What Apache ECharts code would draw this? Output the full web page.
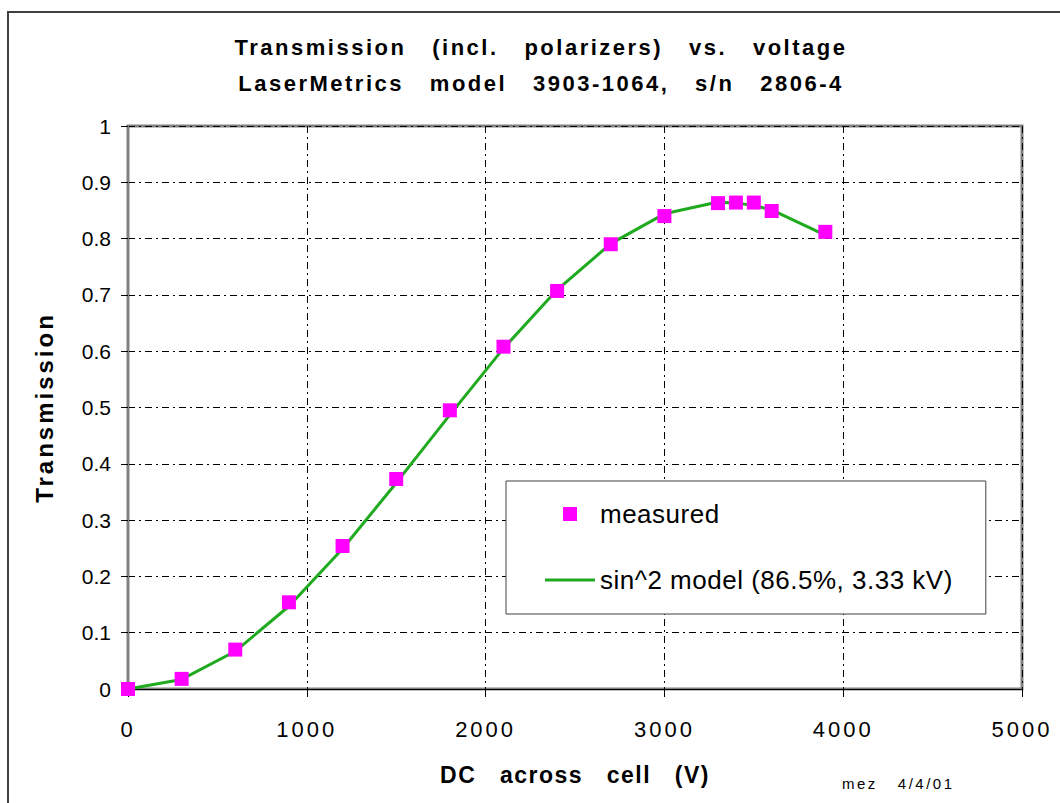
<!DOCTYPE html>
<html>
<head>
<meta charset="utf-8">
<script src="https://cdn.jsdelivr.net/npm/echarts@6/dist/echarts.min.js"></script>
<style>
  html, body { margin: 0; padding: 0; background: #fff; }
  #chart { width: 1060px; height: 803px; }
  /* the original chart uses wide character spacing */
  #chart text[style*="24px"] { letter-spacing: 3px; }
  #chart text[style*="23px"] { letter-spacing: 1.5px; }
  #chart text[style*="22px"] { letter-spacing: 3px; }
  #chart text[style*="22px"][style*="bold"] { letter-spacing: 2.5px; }
  #chart text[style*="26px"] { letter-spacing: 0.5px; }
  #chart text[style*="15px"] { letter-spacing: 2.5px; }
</style>
</head>
<body>
<div id="chart"></div>
<script>
var voltage = [0, 300, 600, 900, 1200, 1500, 1800, 2100, 2400, 2700, 3000, 3300, 3400, 3500, 3600, 3900];   // V
var measured = [0.0, 0.018, 0.070, 0.154, 0.254, 0.373, 0.495, 0.608, 0.707, 0.790, 0.840, 0.863, 0.864, 0.864, 0.849, 0.812];
var model = [0.0, 0.017, 0.067, 0.147, 0.249, 0.366, 0.487, 0.605, 0.709, 0.791, 0.844, 0.865, 0.863, 0.859, 0.851, 0.806];

var yTicks = [0, 0.1, 0.2, 0.3, 0.4, 0.5, 0.6, 0.7, 0.8, 0.9, 1];
var xTicks = [0, 1000, 2000, 3000, 4000, 5000];

var font = 'Liberation Sans, Arial, sans-serif';

var measuredData = [];
var modelData = [];
for (var i = 0; i < voltage.length; i++) {
    measuredData.push([voltage[i], measured[i]]);
    modelData.push([voltage[i], model[i]]);
}

var myChart = echarts.init(document.getElementById('chart'), null, {renderer: 'svg'});
myChart.setOption({
    animation: false,
    backgroundColor: '#fff',
    textStyle: {fontFamily: font},
    title: {
        text: 'Transmission   (incl.   polarizers)   vs.   voltage\nLaserMetrics   model   3903-1064,   s/n   2806-4',
        left: 536,
        top: 24,
        textAlign: 'center',
        textStyle: {fontFamily: font, fontSize: 22, fontWeight: 'bold', color: '#000', lineHeight: 36}
    },
    grid: {
        left: 128, top: 126, right: 38, bottom: 114,
        show: true, borderColor: '#808080', borderWidth: 3, backgroundColor: 'transparent'
    },
    legend: {
        orient: 'vertical',
        left: 506, top: 481,
        padding: [20, 47, 21, 39],
        itemWidth: 50, itemHeight: 14, itemGap: 40,
        symbolKeepAspect: true,
        backgroundColor: '#fff',
        borderColor: '#404040', borderWidth: 1,
        textStyle: {fontFamily: font, fontSize: 26, color: '#000'},
        data: [
            {name: 'measured', icon: 'path://M0,0L10,0L10,10L0,10Z'},
            {name: 'sin^2 model (86.5%, 3.33 kV)', icon: 'path://M0,0L50,0L50,3L0,3Z'}
        ]
    },
    xAxis: {
        type: 'value',
        min: 0, max: 5000, interval: 1000,
        name: 'DC   across   cell   (V)',
        nameLocation: 'middle', nameGap: 74,
        nameTextStyle: {fontFamily: font, fontSize: 23, fontWeight: 'bold', color: '#000'},
        axisLine: {lineStyle: {color: '#000', width: 1}},
        axisTick: {show: true, length: 8, inside: false, lineStyle: {color: '#000'}},
        axisLabel: {
            fontFamily: font, fontSize: 22, color: '#000', margin: 29,
            formatter: function (v) { return String(v); }
        },
        splitLine: {show: true, lineStyle: {color: '#000', width: 1, type: [7, 4, 2, 4]}}
    },
    yAxis: {
        type: 'value',
        min: 0, max: 1, interval: 0.1,
        name: 'Transmission',
        nameLocation: 'middle', nameGap: 72,
        nameTextStyle: {fontFamily: font, fontSize: 24, fontWeight: 'bold', color: '#000'},
        axisLine: {show: true, lineStyle: {color: '#808080', width: 2}},
        axisTick: {show: true, length: 7, lineStyle: {color: '#000'}},
        axisLabel: {fontFamily: font, fontSize: 21, color: '#000', margin: 17},
        splitLine: {show: true, lineStyle: {color: '#000', width: 1, type: [7, 4, 2, 4]}}
    },
    series: [
        {
            name: 'sin^2 model (86.5%, 3.33 kV)',
            type: 'line',
            data: modelData,
            symbol: 'none',
            lineStyle: {color: '#1faa1f', width: 3},
            itemStyle: {color: '#1faa1f'},
            z: 3
        },
        {
            name: 'measured',
            type: 'scatter',
            data: measuredData,
            symbol: 'rect',
            symbolSize: 14,
            itemStyle: {color: '#ff00ff', opacity: 1},
            z: 4
        }
    ],
    graphic: [
        {
            type: 'rect',
            shape: {x: 8, y: 12, width: 1200, height: 900},
            style: {fill: 'none', stroke: '#404040', lineWidth: 2},
            silent: true
        },
        {
            type: 'text',
            left: 842, top: 776,
            style: {text: 'mez   4/4/01', fontFamily: font, fontSize: 15, fill: '#000'}
        }
    ]
});
</script>
</body>
</html>
